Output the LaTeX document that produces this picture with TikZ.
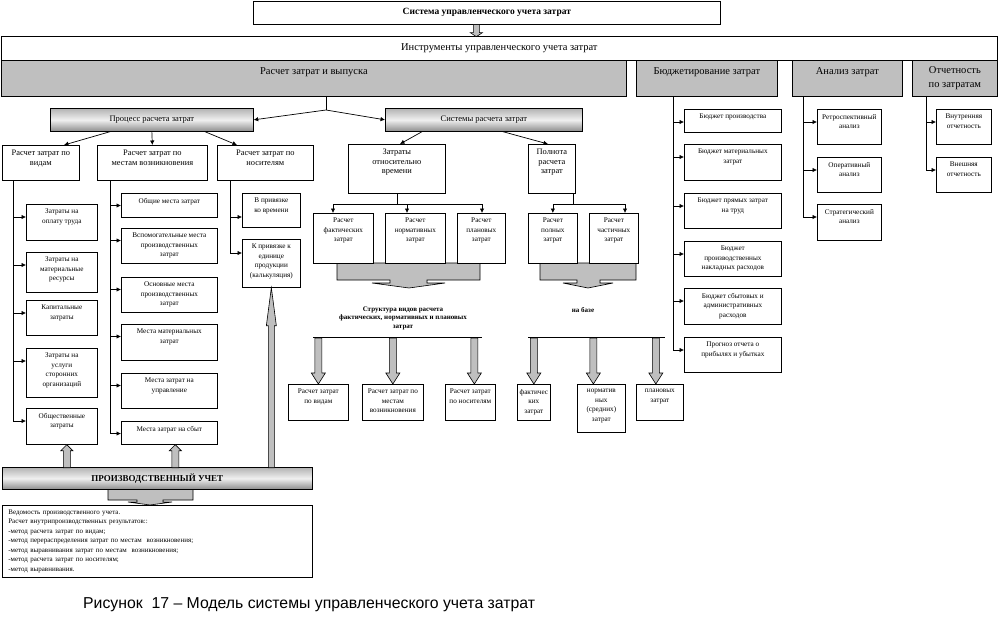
\documentclass[tikz,border=0pt]{standalone}
\usepackage{fontspec}
\setmainfont{Liberation Serif}
\newfontfamily\capfont{Liberation Sans}
\usetikzlibrary{arrows.meta}

% grey block arrows: tip, length, half shaft, half head, head length
\newcommand{\downarr}[5]{%
  \draw[blk] (#1) -- ++(#4,-#5) -- ++(-#4+#3,0) -- ++(0,-#2+#5) -- ++(-2*#3,0)
    -- ++(0,#2-#5) -- ++(-#4+#3,0) -- cycle;}
\newcommand{\uparr}[5]{%
  \draw[blk] (#1) -- ++(#4,#5) -- ++(-#4+#3,0) -- ++(0,#2-#5) -- ++(-2*#3,0)
    -- ++(0,-#2+#5) -- ++(-#4+#3,0) -- cycle;}

\tikzset{
  box/.style={draw,fill=white,anchor=north west,inner sep=0pt,line width=0.7pt},
  greybox/.style={box,fill=black!25},
  shadebox/.style={box,top color=black!30,bottom color=black!45,middle color=black!6},
  ttl/.style={anchor=north,yshift=-5pt,align=center,inner sep=0pt,font=\fontsize{7.2}{9.5}\selectfont},
  tt/.style={label={[ttl]north:{#1}}},
  ht/.style={label={[anchor=north,yshift=-5pt,align=center,inner sep=0pt,font=\fontsize{8.4}{9.5}\selectfont]north:{#1}}},
  toplab/.style={label={[anchor=north,yshift=-7pt,inner sep=0pt,font=\fontsize{10.5}{12}\selectfont]north:{#1}}},
  arr/.style={-{Latex[length=4.5pt,width=4.5pt]},line width=0.7pt},
  blk/.style={draw,fill=black!25,line width=0.6pt},
}

\begin{document}
\begin{tikzpicture}[x=1pt,y=-1pt]
\fill[white] (0,0) rectangle (998,626);
\useasboundingbox (0,0) rectangle (998,626);

% top level
\node[box,minimum width=467,minimum height=23,font=\bfseries\fontsize{9.5}{11}\selectfont] (sys) at (253,1) {Система управленческого учета затрат};
\node[box,minimum width=996,minimum height=24,font=\fontsize{10.5}{12}\selectfont] (instr) at (1,36) {Инструменты управленческого учета затрат};
\downarr{[xshift=-10.5pt,yshift=-12pt]sys.south}{12}{3}{6}{4}

\node[greybox,minimum width=625,minimum height=36,toplab={Расчет затрат и выпуска}] (vyp) at (1,60) {};
\node[greybox,minimum width=141,minimum height=36,toplab={Бюджетирование затрат}] (budg) at (636,60) {};
\node[greybox,minimum width=110,minimum height=36,toplab={Анализ затрат}] (anal) at (792,60) {};
\node[greybox,minimum width=85,minimum height=36,align=center,font=\fontsize{10.5}{13.5}\selectfont] (otch) at (912,60) {Отчетность\\по затратам};

% cost calculation
\node[shadebox,minimum width=203,minimum height=23,font=\fontsize{8.5}{10}\selectfont] (proc) at (50,108) {Процесс расчета затрат};
\node[shadebox,minimum width=197,minimum height=23,font=\fontsize{8.5}{10}\selectfont] (sysr) at (385,108) {Системы расчета затрат};
\coordinate (fork) at (326,110);
\draw[line width=0.7pt] (vyp.south -| fork) -- (fork);
\draw[arr] (fork) -- (proc.east);
\draw[arr] (fork) -- (sysr.west);

\node[box,minimum width=77,minimum height=35,ht={Расчет затрат по\\видам}] (vidy) at (2,145) {};
\node[box,minimum width=110,minimum height=35,ht={Расчет затрат по\\местам возникновения}] (mesta) at (97,145) {};
\node[box,minimum width=96,minimum height=35,ht={Расчет затрат по\\носителям}] (nosit) at (217,145) {};
\draw[arr] ([xshift=60pt]proc.south west) -- ([xshift=62pt]vidy.north west);
\draw[arr] (proc.south) -- (mesta.north);
\draw[arr] ([xshift=155pt]proc.south west) -- ([xshift=20pt]nosit.north west);

% kinds of costs
\coordinate (tA) at (13,0);
\node[box,minimum width=71,minimum height=36,tt={Затраты на\\оплату труда}] (c1a) at (26,204) {};
\node[box,minimum width=71,minimum height=40,tt={Затраты на\\материальные\\ресурсы}] (c1b) at (26,252) {};
\node[box,minimum width=71,minimum height=35,tt={Капитальные\\затраты}] (c1c) at (26,300) {};
\node[box,minimum width=71,minimum height=49,tt={Затраты на\\услуги\\сторонних\\организаций}] (c1d) at (26,348) {};
\node[box,minimum width=71,minimum height=36,tt={Общественные\\затраты}] (c1e) at (26,408) {};
\foreach \n in {c1a,c1b,c1c,c1d,c1e}
  \draw[arr] (vidy.south -| tA) |- ([yshift=-13pt]\n.north west);

% cost centres
\coordinate (tB) at (110,0);
\node[box,minimum width=96,minimum height=24,tt={Общие места затрат}] (c2a) at (121,193) {};
\node[box,minimum width=96,minimum height=35,tt={Вспомогательные места\\производственных\\затрат}] (c2b) at (121,228) {};
\node[box,minimum width=96,minimum height=35,tt={Основные места\\производственных\\затрат}] (c2c) at (121,277) {};
\node[box,minimum width=96,minimum height=36,tt={Места материальных\\затрат}] (c2d) at (121,324) {};
\node[box,minimum width=96,minimum height=35,tt={Места затрат на\\управление}] (c2e) at (121,373) {};
\node[box,minimum width=96,minimum height=23,tt={Места затрат на сбыт}] (c2f) at (121,421) {};
\foreach \n in {c2a,c2b,c2c,c2d,c2e,c2f}
  \draw[arr] (mesta.south -| tB) |- ([yshift=-12.5pt]\n.north west);

% cost units
\coordinate (tC) at (230,0);
\node[box,minimum width=58,minimum height=34,tt={В привязке\\ко времени}] (c3a) at (242,193) {};
\node[box,minimum width=58,minimum height=48,tt={К привязке к\\единице\\продукции\\(калькуляция)}] (c3b) at (242,239) {};
\draw[arr] (nosit.south -| tC) |- ([yshift=-24pt]c3a.north west);
\draw[arr] (nosit.south -| tC) |- ([yshift=-14pt]c3b.north west);

% production accounting
\draw[blk] (108,489) -- (193,489) -- (193,500) -- (163,500) -- (163,502) -- (172,502)
  -- (150,505) -- (128,502) -- (137,502) -- (137,500) -- (108,500) -- cycle;
\node[shadebox,minimum width=310,minimum height=22,font=\bfseries\fontsize{9}{11}\selectfont] (proizv) at (2,467) {ПРОИЗВОДСТВЕННЫЙ УЧЕТ};
\uparr{[xshift=5pt]c1e.south}{23}{3.5}{6}{6}
\uparr{[xshift=6pt]c2f.south}{23}{3.5}{6}{6}
\draw[blk] (c3b.south) -- ++(5,38) -- ++(-2,0) -- ++(0,142) -- ++(-6,0) -- ++(0,-142) -- ++(-2,0) -- cycle;
\node[box,text width=298,inner xsep=6pt,minimum height=72,align=left,font=\fontsize{7}{9.5}\selectfont] (ved) at (2,505) {Ведомость производственного учета.\\
Расчет внутрипроизводственных результатов::\\
-метод расчета затрат по видам;\\
-метод перераспределения затрат по местам\ \ возникновения;\\
-метод выравнивания затрат по местам\ \ возникновения;\\
-метод расчета затрат по носителям;\\
-метод выравнивания.};

% calculation systems
\node[box,minimum width=97,minimum height=49,ht={Затраты\\относительно\\времени}] (zatvr) at (348,144) {};
\node[box,minimum width=47,minimum height=49,ht={Полнота\\расчета\\затрат}] (poln) at (528,144) {};
\draw[arr] ([xshift=37pt]sysr.south west) -- ([xshift=52pt]zatvr.north west);
\draw[arr] ([xshift=118pt]sysr.south west) -- ([xshift=20pt]poln.north west);

\draw[blk] (337,263) -- (480,263) -- (480,280) -- (427,280) -- (427,283) -- (445,283)
  -- (409,288) -- (372,283) -- (390,283) -- (390,280) -- (337,280) -- cycle;
\draw[blk] (540,263) -- (636,263) -- (636,280) -- (600,280) -- (600,283) -- (613,283)
  -- (588,288) -- (563,283) -- (577,283) -- (577,280) -- (540,280) -- cycle;

\node[box,minimum width=60,minimum height=50,tt={Расчет\\фактических\\затрат}] (fact) at (313,213) {};
\node[box,minimum width=60,minimum height=50,tt={Расчет\\нормативных\\затрат}] (norm) at (385,213) {};
\node[box,minimum width=48,minimum height=50,tt={Расчет\\плановых\\затрат}] (plan) at (457,213) {};
\node[box,minimum width=49,minimum height=50,tt={Расчет\\полных\\затрат}] (polnye) at (528,213) {};
\node[box,minimum width=49,minimum height=50,tt={Расчет\\частичных\\затрат}] (chast) at (589,213) {};

\coordinate (busA) at (0,204);
\draw[line width=0.7pt] (zatvr.south) -- (zatvr.south |- busA);
\draw[line width=0.7pt] ([xshift=20pt]fact.north west |- busA) -- ([xshift=25pt]plan.north west |- busA);
\draw[arr] ([xshift=20pt]fact.north west |- busA) -- ([xshift=20pt]fact.north west);
\draw[arr] ([xshift=22pt]norm.north west |- busA) -- ([xshift=22pt]norm.north west);
\draw[arr] ([xshift=25pt]plan.north west |- busA) -- ([xshift=25pt]plan.north west);
\draw[line width=0.7pt] ([xshift=-2pt]poln.south east) -- ([xshift=-2pt]poln.south east |- busA);
\draw[line width=0.7pt] (polnye.north |- busA) -- ([xshift=36pt]chast.north west |- busA);
\draw[arr] (polnye.north |- busA) -- (polnye.north);
\draw[arr] ([xshift=36pt]chast.north west |- busA) -- ([xshift=36pt]chast.north west);

\node[align=center,font=\bfseries\fontsize{7}{8.5}\selectfont] (struct) at (403,318) {Структура видов расчета\\фактических, нормативных и плановых\\затрат};
\node[font=\bfseries\fontsize{7}{8.5}\selectfont] (nabaze) at (583,310) {на базе};

\coordinate (cL) at (313,337);
\coordinate (cR) at (482,337);
\coordinate (dL) at (528,337);
\coordinate (dR) at (665,337);
\draw[line width=0.7pt] (cL) -- (cR);
\draw[line width=0.7pt] (dL) -- (dR);

\node[box,minimum width=60,minimum height=36,tt={Расчет затрат\\по видам}] (bv) at (288,384) {};
\node[box,minimum width=61,minimum height=36,tt={Расчет затрат по\\местам\\возникновения}] (mv) at (362,384) {};
\node[box,minimum width=50,minimum height=36,tt={Расчет затрат\\по носителям}] (nv) at (445,384) {};
\node[box,minimum width=33,minimum height=36,tt={фактичес\\ких\\затрат}] (fk) at (517,384) {};
\node[box,minimum width=48,minimum height=48,tt={норматив\\ных\\(средних)\\затрат}] (nr) at (577,384) {};
\node[box,minimum width=47,minimum height=36,tt={плановых\\затрат}] (pl) at (636,384) {};
\downarr{bv.north}{46}{3.5}{7}{11}
\downarr{mv.north}{46}{3.5}{7}{11}
\downarr{[xshift=4pt]nv.north}{46}{3.5}{7}{11}
\downarr{fk.north}{46}{3.5}{7}{11}
\downarr{[xshift=-8pt]nr.north}{46}{3.5}{7}{11}
\downarr{[xshift=-4pt]pl.north}{46}{3.5}{7}{11}

% budgeting
\coordinate (tD) at (673,0);
\node[box,minimum width=97,minimum height=23,tt={Бюджет производства}] (b1) at (684,109) {};
\node[box,minimum width=97,minimum height=36,tt={Бюджет материальных\\затрат}] (b2) at (684,144) {};
\node[box,minimum width=97,minimum height=35,tt={Бюджет прямых затрат\\на труд}] (b3) at (684,193) {};
\node[box,minimum width=97,minimum height=35,tt={Бюджет\\производственных\\накладных расходов}] (b4) at (684,241) {};
\node[box,minimum width=97,minimum height=36,tt={Бюджет сбытовых и\\административных\\расходов}] (b5) at (684,288) {};
\node[box,minimum width=97,minimum height=35,tt={Прогноз отчета о\\прибылях и убытках}] (b6) at (684,337) {};
\foreach \n in {b1,b2,b3,b4,b5,b6}
  \draw[arr] (budg.south -| tD) |- ([yshift=-13pt]\n.north west);

% analysis
\coordinate (tE) at (803,0);
\node[box,minimum width=64,minimum height=35,tt={Ретроспективный\\анализ}] (a1) at (817,109) {};
\node[box,minimum width=64,minimum height=35,tt={Оперативный\\анализ}] (a2) at (817,157) {};
\node[box,minimum width=64,minimum height=36,tt={Стратегический\\анализ}] (a3) at (817,204) {};
\foreach \n in {a1,a2,a3}
  \draw[arr] (anal.south -| tE) |- ([yshift=-13pt]\n.north west);

% reporting
\coordinate (tF) at (926,0);
\node[box,minimum width=55,minimum height=35,tt={Внутренняя\\отчетность}] (o1) at (936,109) {};
\node[box,minimum width=55,minimum height=35,tt={Внешняя\\отчетность}] (o2) at (936,157) {};
\foreach \n in {o1,o2}
  \draw[arr] (otch.south -| tF) |- ([yshift=-13pt]\n.north west);

% caption
\node[anchor=west,inner sep=0pt,font=\capfont\fontsize{15.8}{18}\selectfont] (cap) at (83,605) {Рисунок\ \ 17 – Модель системы управленческого учета затрат};
\end{tikzpicture}
\end{document}
